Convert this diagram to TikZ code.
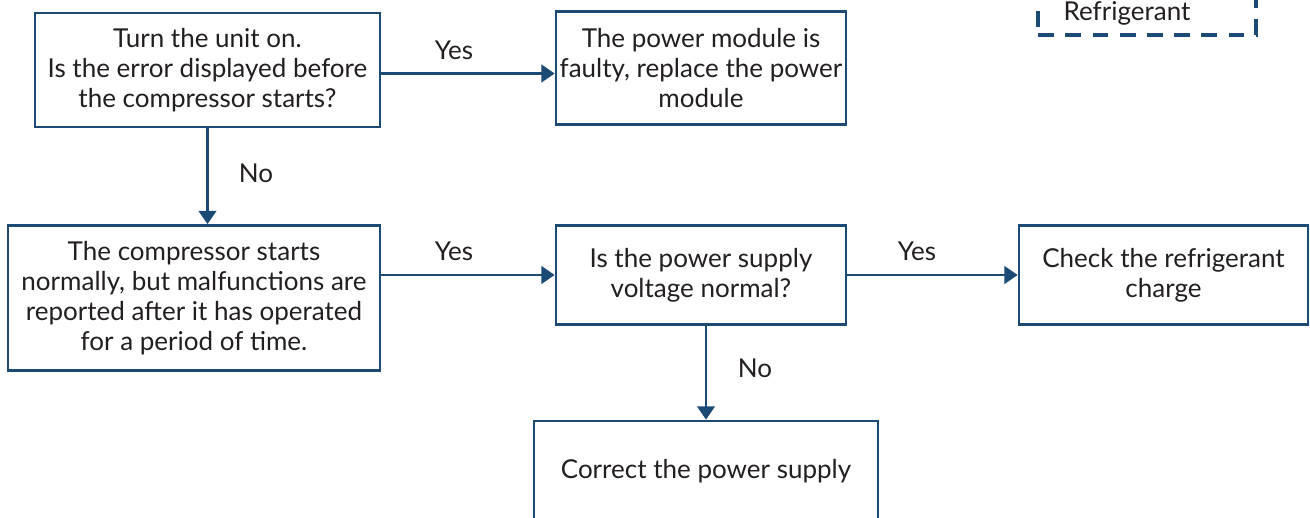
\documentclass[tikz,border=0pt]{standalone}
\usepackage{fontspec}
\setmainfont{Lato}
\usetikzlibrary{positioning, arrows.meta, calc}

\definecolor{flowblue}{HTML}{1B4A75}
\definecolor{flowtext}{HTML}{231F20}

\tikzset{
    box/.style={draw=flowblue, line width=1.6pt, fill=white, align=center,
        text=flowtext, inner sep=0pt, font=\fontsize{14.8}{17.2}\selectfont},
    flow/.style={draw=flowblue, line width=1.2pt, -{Triangle[length=7.5pt, width=10pt]}},
    lbl/.style={text=flowtext, font=\fontsize{14.8}{17.2}\selectfont},
    dashbox/.style={draw=flowblue, line width=2.3pt, dash pattern=on 9pt off 6.5pt}
}

\begin{document}
\begin{tikzpicture}[x=0.02cm, y=-0.02cm]
        \useasboundingbox (0,0) rectangle (1310,517);
        \clip (0,0) rectangle (1310,517);

        % boxes
        \node (start) [box, minimum width=6.9cm, minimum height=2.28cm] at (207.5,70)
            {Turn the unit on.\\Is the error displayed before\\the compressor starts?};
        \node (module) [box, minimum width=5.8cm, minimum height=2.26cm] at (701,68)
            {The power module is\\faulty, replace the power\\module};
        \node (later) [box, minimum width=7.44cm, minimum height=2.9cm] at (194,298)
            {The compressor starts\\normally, but malfunctions are\\reported after it has operated\\for a period of time.};
        \node (voltage) [box, minimum width=5.8cm, minimum height=1.98cm] at (701,275)
            {Is the power supply\\voltage normal?};
        \node (charge) [box, minimum width=5.78cm, minimum height=1.98cm] at (1163.5,275)
            {Check the refrigerant\\charge};
        \node (supply) [box, minimum width=6.88cm, minimum height=2cm] at (706,471)
            {Correct the power supply};

        % cut-off box top right
        \node (refbox) [dashbox, minimum width=4.36cm, minimum height=1.6cm, anchor=south] at (1147,37) {};
        \node (reftext) [lbl] at (1127,13) {Refrigerant};

        % connectors
        \draw[flow] ([yshift=-2pt]start.east) -- ([yshift=-2pt]start.east -| module.west);
        \draw[flow] (start.south) -- (start.south |- later.north);
        \draw[flow] (voltage.west -| later.east) -- (voltage.west);
        \draw[flow] (voltage.east) -- (charge.west);
        \draw[flow] (supply.north |- voltage.south) -- (supply.north);

        % labels
        \node[lbl] at (454,50) {Yes};
        \node[lbl] at (256,173) {No};
        \node[lbl] at (454,251) {Yes};
        \node[lbl] at (917,251) {Yes};
        \node[lbl] at (755,368) {No};
    \end{tikzpicture}
\end{document}
